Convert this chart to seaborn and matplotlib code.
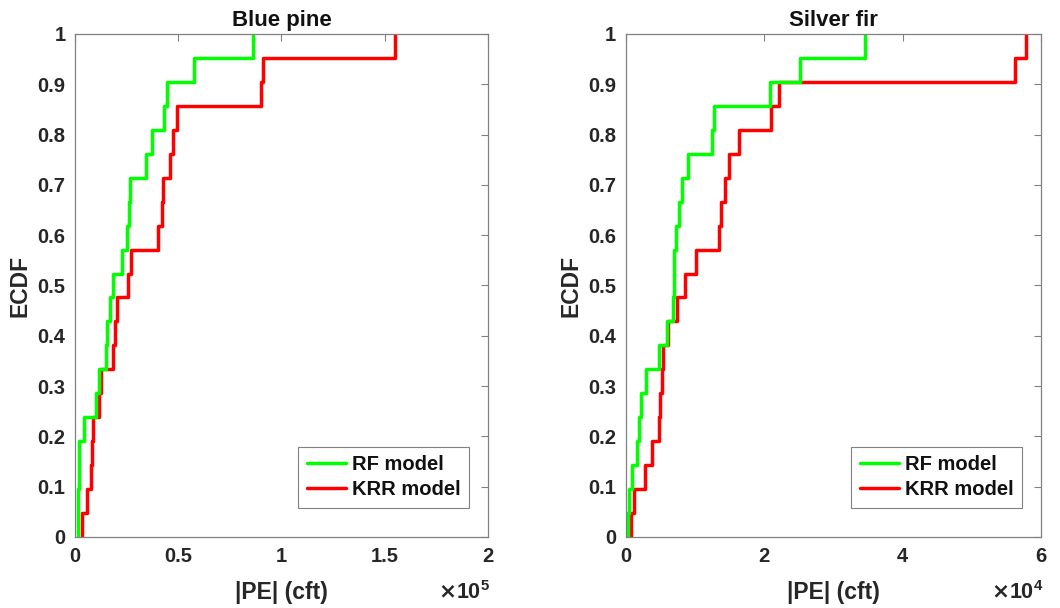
import numpy as np
import pandas as pd
import seaborn as sns
import matplotlib
matplotlib.use("Agg")
import matplotlib.pyplot as plt
from matplotlib.ticker import FuncFormatter

# Absolute prediction errors |PE| (cft) for each species and model
blue_pine_rf = [1200, 1500, 1700, 1900, 4200, 10000, 11600, 14700, 15200, 16800,
                18100, 22500, 24900, 26000, 26500, 34300, 37400, 43200, 44300,
                57700, 86300]
blue_pine_krr = [3400, 5500, 7700, 8300, 8700, 11500, 12300, 18100, 19300, 20400,
                 25400, 26800, 40300, 41900, 42700, 45900, 47500, 49200, 90000,
                 91200, 155000]
silver_fir_rf = [330, 480, 910, 1630, 1920, 2170, 2840, 4770, 5880, 6750,
                 6900, 7000, 7180, 7660, 8050, 8910, 12480, 12760, 20810,
                 25140, 34500]
silver_fir_krr = [720, 1160, 2750, 3810, 4770, 4910, 5150, 5390, 6120, 7320,
                  8530, 10120, 13440, 13730, 14310, 14880, 16330, 20950, 22110,
                  56300, 57760]

models = ["RF model", "KRR model"]
colors = {"RF model": "#00ff00", "KRR model": "#ff0000"}

panels = [
    ("Blue pine", blue_pine_rf, blue_pine_krr, 2e5, 1e5, 5, [0, 0.5e5, 1e5, 1.5e5, 2e5]),
    ("Silver fir", silver_fir_rf, silver_fir_krr, 6e4, 1e4, 4, [0, 2e4, 4e4, 6e4]),
]

sns.set_theme(style="white")
plt.rcParams["font.family"] = ["Liberation Sans", "DejaVu Sans"]
plt.rcParams["font.weight"] = "bold"

fig = plt.figure(figsize=(10.6, 6.08), dpi=100)
axes = [fig.add_axes([0.0710, 0.1168, 0.3891, 0.8273]),
        fig.add_axes([0.5906, 0.1168, 0.3915, 0.8273])]

axis_gray = "#808080"
for ax, (title, rf, krr, xmax, scale, expo, xticks) in zip(axes, panels):
    df = pd.DataFrame({
        "pe": list(rf) + list(krr),
        "model": [models[0]] * len(rf) + [models[1]] * len(krr),
    })
    sns.ecdfplot(data=df, x="pe", hue="model", hue_order=models,
                 palette=colors, linewidth=2.5, ax=ax, legend=False)
    ax.set_xlim(0, xmax)
    ax.set_ylim(0, 1)
    ax.set_xticks(xticks)
    ax.set_yticks(np.round(np.arange(0, 1.01, 0.1), 1))
    ax.xaxis.set_major_formatter(FuncFormatter(lambda v, p, s=scale: f"{v / s:g}"))
    ax.yaxis.set_major_formatter(FuncFormatter(lambda v, p: f"{v:g}"))
    ax.tick_params(direction="in", length=5, width=0.8, color=axis_gray,
                   top=True, right=True, labelsize=14.5, pad=7,
                   labelcolor="#262626")
    for lab in ax.get_xticklabels() + ax.get_yticklabels():
        lab.set_fontweight("bold")
    for sp in ax.spines.values():
        sp.set_visible(True)
        sp.set_color(axis_gray)
        sp.set_linewidth(0.9)
    ax.set_title(title, fontsize=16, fontweight="bold", pad=6, color="#111111")
    ax.set_xlabel("|PE| (cft)", fontsize=16.5, fontweight="bold", labelpad=11,
                  color="#262626")
    ax.set_ylabel("ECDF", fontsize=16.5, fontweight="bold", labelpad=4,
                  color="#262626")
    ax.text(1.005, -0.088, r"$\times\mathregular{10^{%d}}$" % expo,
            transform=ax.transAxes, ha="right", va="top", fontsize=15.5,
            color="#262626")
    handles = [plt.Line2D([], [], color=colors[m], linewidth=2.5) for m in models]
    leg = ax.legend(handles, models, loc="lower right",
                    bbox_to_anchor=(0.955, 0.058), fontsize=14.5,
                    frameon=True, fancybox=False, framealpha=1,
                    edgecolor=axis_gray, handlelength=1.95, handletextpad=0.3,
                    borderpad=0.42, labelspacing=0.3, borderaxespad=0)
    leg.get_frame().set_linewidth(0.8)
    for t in leg.get_texts():
        t.set_fontweight("bold")
        t.set_color("#111111")

fig.savefig("out.png", dpi=100, facecolor="white")
